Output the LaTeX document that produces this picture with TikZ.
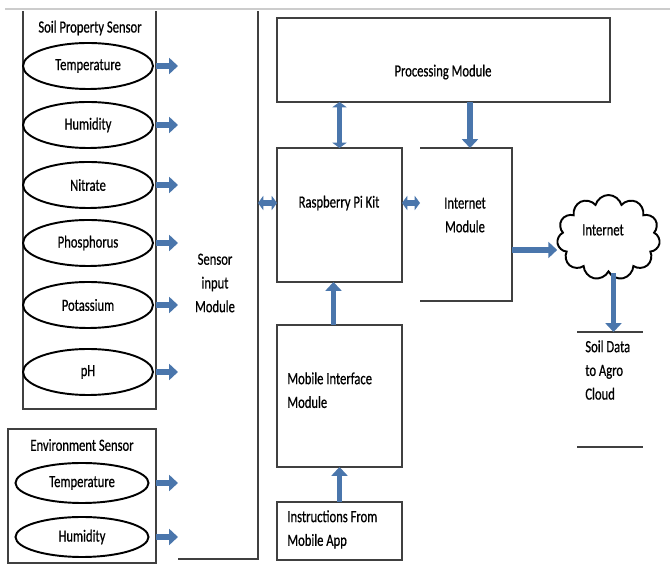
\documentclass[tikz,border=0pt]{standalone}
\usepackage{fontspec}
\setmainfont{Carlito}[FakeStretch=0.74,FakeBold=0.6]
\usepackage{tikz}
\usetikzlibrary{arrows.meta,shapes.geometric,shapes.symbols}

\definecolor{arrowblue}{RGB}{74,118,172}

\begin{document}
\begin{tikzpicture}[x=0.02cm, y=-0.02cm,
    font=\fontsize{9.7}{13.5}\selectfont,
    frame/.style={inner sep=0pt, outer sep=0pt},
    boxline/.style={draw=black!75, line width=0.7pt},
    boxed/.style={frame, boxline, minimum width=2.5cm},
    sensor/.style={ellipse, draw, line width=1.1pt, inner sep=0pt,
      minimum width=2.6cm, minimum height=0.92cm},
    lbl/.style={align=center, inner sep=0pt},
    blockarrow/.style={draw=arrowblue, line width=3.4pt,
      -{Triangle[length=5pt,width=9pt]}},
    blockboth/.style={blockarrow,
      {Triangle[length=3pt,width=8pt]}-{Triangle[length=3pt,width=8pt]}}]
  \useasboundingbox (0,0) rectangle (670,580);

  % page edge
  \draw[black!20, line width=0.8pt] (5,9) -- (670,9);

  % sensor frames
  \node[frame, minimum width=2.66cm, minimum height=7.96cm] (soil) at (89.5,210) {};
  \draw[boxline] (soil.north west) -- (soil.south west) -- (soil.south east) -- (soil.north east);
  \node[frame, boxline, minimum width=2.96cm, minimum height=2.68cm] (env) at (82,496) {};
  \node[frame, minimum width=2.04cm, minimum height=10.96cm] (sim) at (207,285) {};
  \draw[boxline] (sim.north east) -- (sim.south east) -- ([xshift=0.44cm]sim.south west);

  \node[lbl] (soillbl) at (90,28) {Soil Property Sensor};
  \node[lbl] (envlbl) at (82,445) {Environment Sensor};
  \node[lbl] (simlbl) at (215,283) {Sensor\\input\\Module};

  % soil sensors
  \node[sensor] (stemp) at (88,66) {Temperature};
  \node[sensor] (shum) at (88,125) {Humidity};
  \node[sensor] (snit) at (88,185) {Nitrate};
  \node[sensor] (sphos) at (88,243) {Phosphorus};
  \node[sensor] (spot) at (88,305) {Potassium};
  \node[sensor] (sph) at (88,372) {pH};

  % environment sensors
  \node[sensor, minimum width=2.66cm, minimum height=0.8cm] (etemp) at (82,483) {Temperature};
  \node[sensor, minimum width=2.66cm, minimum height=0.8cm] (ehum) at (82,537) {Humidity};

  % sensor outputs
  \draw[blockarrow] (stemp.east -| soil.east) -- ++(22,0);
  \draw[blockarrow] (shum.east -| soil.east) -- ++(22,0);
  \draw[blockarrow] (snit.east -| soil.east) -- ++(22,0);
  \draw[blockarrow] (sphos.east -| soil.east) -- ++(22,0);
  \draw[blockarrow] (spot.east -| soil.east) -- ++(22,0);
  \draw[blockarrow] (sph.east -| soil.east) -- ++(22,0);
  \draw[blockarrow] (etemp.east -| env.east) -- ++(22,0);
  \draw[blockarrow] (ehum.east -| env.east) -- ++(22,0);

  % modules
  \node[boxed, minimum width=6.66cm, minimum height=1.68cm] (proc) at (443.5,60) {};
  \node[lbl] (proctxt) at (443,72) {Processing Module};
  \node[boxed, minimum height=2.68cm] (rpi) at (339.5,215) {};
  \node[lbl] (rpitxt) at (339,203) {Raspberry Pi Kit};
  \node[frame, minimum width=1.84cm, minimum height=3.06cm] (inet) at (466,224.5) {};
  \draw[boxline] (inet.north west) -- (inet.north east) -- (inet.south east) -- (inet.south west);
  \node[lbl] (inettxt) at (465,215) {Internet\\Module};
  \node[boxed, minimum height=2.84cm] (mobile) at (339.5,396) {};
  \node[lbl, align=left, anchor=north west] (mobiletxt) at (287,372) {Mobile Interface\\Module};
  \node[boxed, minimum height=1.16cm] (instr) at (339.5,531) {};
  \node[lbl, align=left, anchor=north west] (instrtxt) at (287,510) {Instructions From\\Mobile App};

  % cloud and output
  \node[cloud, draw, line width=1.1pt, cloud puffs=11, aspect=1.2,
    minimum width=2.06cm, minimum height=1.7cm] (cloud) at (608.5,237.5) {};
  \node[lbl] (cloudtxt) at (603,230) {Internet};
  \node[frame, minimum width=1.32cm, minimum height=2.3cm] (agro) at (610,389.5) {};
  \draw[boxline] (agro.north west) -- (agro.north east);
  \draw[boxline] (agro.south west) -- (agro.south east);
  \node[lbl, align=left, anchor=north west] (agrotxt) at (585,340) {Soil Data\\to Agro\\Cloud};

  % links
  \draw[blockboth] (sim.east |- rpitxt) -- (rpi.west |- rpitxt);
  \draw[blockboth] (rpi.east |- rpitxt) -- (inet.west |- rpitxt);
  \draw[blockboth] (rpi.north) -- (rpi.north |- proc.south);
  \draw[blockarrow] ([xshift=0.08cm]inet.north |- proc.south) -- ([xshift=0.08cm]inet.north);
  \draw[blockarrow] ([xshift=-0.12cm]mobile.north) -- ([xshift=-0.12cm]rpi.south);
  \draw[blockarrow] (instr.north) -- (mobile.south);
  \draw[blockarrow] ([yshift=-0.51cm]inet.east) -- ([yshift=-0.51cm]inet.east -| cloud.west);
  \draw[blockarrow] ([xshift=0.1cm]cloud.south) -- ([xshift=0.1cm]cloud.south |- agro.north);
\end{tikzpicture}
\end{document}
